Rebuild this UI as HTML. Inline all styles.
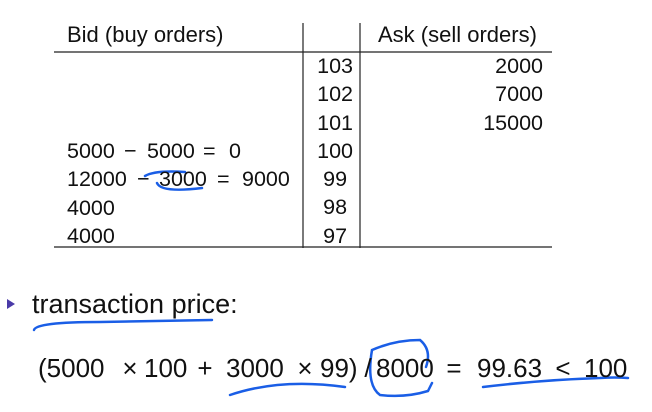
<!DOCTYPE html>
<html><head><meta charset="utf-8"><style>
body{margin:0;width:652px;height:412px;background:#fff;overflow:hidden;font-family:"Liberation Sans",sans-serif;color:#111;position:relative}
.t{position:absolute;font-size:21.5px;line-height:22px;white-space:nowrap}
.r{text-align:right}
.f{position:absolute;top:354px;font-size:26px;line-height:28px;white-space:nowrap}
.c{transform:translateX(-50%)}
</style></head><body>
<svg width="652" height="412" style="position:absolute;left:0;top:0">
<line x1="54" y1="52" x2="552" y2="52" stroke="#222" stroke-width="1.3"/>
<line x1="54" y1="247" x2="552" y2="247" stroke="#222" stroke-width="1.3"/>
<line x1="303" y1="23" x2="303" y2="248" stroke="#222" stroke-width="1.2"/>
<line x1="360" y1="23" x2="360" y2="248" stroke="#222" stroke-width="1.2"/>
<polygon points="7,299 7,309 15,304" fill="#4a3aa8"/>
<g fill="none" stroke="#1a5ee6" stroke-width="2.5" stroke-linecap="round">
<path d="M145,176 Q155,170 185,172"/>
<path d="M157,183 Q161,193 202,188"/>
<path d="M34,330 Q36,322 100,322 L212,320"/>
<path d="M230,395 Q280,378 345,387"/>
<path d="M426,367 Q432,350 420,340 Q395,340 372,350 Q366,385 380,395 Q405,398 428,391 L432,383"/>
<path d="M483,387 Q540,380 600,378 Q615,377 628,378"/>
</g>
</svg>
<div class="t" style="left:67px;top:24px;font-size:22px">Bid (buy orders)</div>
<div class="t" style="left:378px;top:24px;font-size:22px">Ask (sell orders)</div>
<div class="t r" style="left:305px;width:48px;top:52px;line-height:28.3px">103<br>102<br>101<br>100<br>99&nbsp;<br>98&nbsp;<br>97&nbsp;</div>
<div class="t r" style="left:400px;width:143px;top:52px;line-height:28.3px">2000<br>7000<br>15000</div>
<div>
<div class="t" style="left:67px;top:140px">5000</div><div class="t" style="left:124px;top:140px">−</div><div class="t" style="left:147px;top:140px">5000</div><div class="t" style="left:203px;top:140px">=</div><div class="t" style="left:229px;top:140px">0</div>
<div class="t" style="left:67px;top:168px">12000</div><div class="t" style="left:137px;top:168px">−</div><div class="t" style="left:159px;top:168px">3000</div><div class="t" style="left:217px;top:168px">=</div><div class="t" style="left:242px;top:168px">9000</div>
<div class="t" style="left:67px;top:197px">4000</div>
<div class="t" style="left:67px;top:225px">4000</div>
</div>
<div class="t" style="left:32px;top:290px;font-size:27px;line-height:28px">transaction price:</div>
<div>
<span class="f" style="left:38px">(5000</span><span class="f c" style="left:130px">×</span><span class="f" style="left:144px">100</span><span class="f c" style="left:205px">+</span><span class="f" style="left:226px">3000</span><span class="f c" style="left:305px">×</span><span class="f" style="left:320px">99)</span><span class="f c" style="left:368px">/</span><span class="f" style="left:376px">8000</span><span class="f c" style="left:454px">=</span><span class="f" style="left:477px">99.63</span><span class="f c" style="left:563px">&lt;</span><span class="f" style="left:584px">100</span>
</div>
</body></html>
